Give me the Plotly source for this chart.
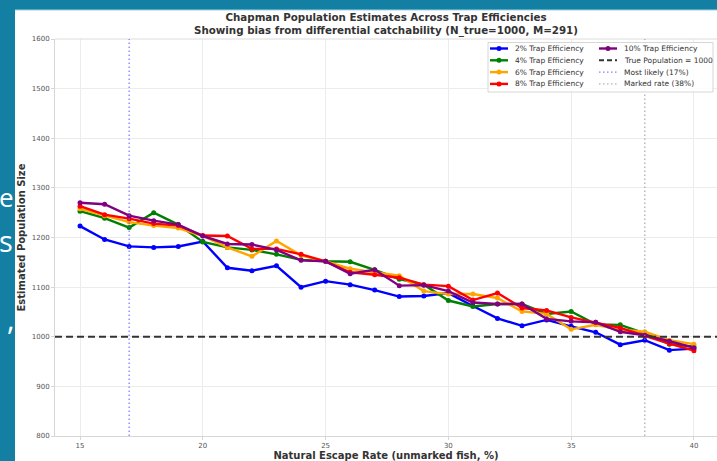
import plotly.graph_objects as go

# ---- data -------------------------------------------------------------
escape_rate = list(range(15, 41))  # natural escape rate of unmarked fish, %

est_2pct = [1223, 1196, 1182, 1180, 1182, 1192, 1139, 1133, 1143, 1100, 1112, 1105, 1094,
            1081, 1082, 1088, 1062, 1037, 1022, 1034, 1021, 1009, 984, 993, 973, 976]
est_4pct = [1253, 1239, 1220, 1250, 1226, 1191, 1180, 1175, 1166, 1155, 1152, 1151, 1135,
            1116, 1105, 1073, 1061, 1066, 1066, 1046, 1051, 1025, 1024, 1007, 985, 980]
est_6pct = [1258, 1244, 1231, 1224, 1219, 1203, 1180, 1162, 1193, 1164, 1152, 1137, 1130,
            1123, 1092, 1086, 1086, 1078, 1051, 1046, 1015, 1024, 1014, 1010, 993, 985]
est_8pct = [1263, 1246, 1238, 1228, 1224, 1204, 1203, 1177, 1177, 1166, 1152, 1130, 1125,
            1119, 1105, 1102, 1074, 1088, 1058, 1053, 1039, 1029, 1018, 1002, 986, 972]
est_10pct = [1270, 1267, 1244, 1234, 1226, 1203, 1187, 1186, 1175, 1154, 1152, 1127, 1135,
             1103, 1104, 1092, 1069, 1066, 1066, 1036, 1031, 1029, 1010, 1003, 991, 978]

series_labels = ["2% Trap Efficiency", "4% Trap Efficiency", "6% Trap Efficiency",
                 "8% Trap Efficiency", "10% Trap Efficiency"]
series_values = [est_2pct, est_4pct, est_6pct, est_8pct, est_10pct]
series_colors = ["#0000ff", "#008000", "#ffa500", "#ff0000", "#800080"]

true_population = 1000
most_likely_rate = 17
marked_rate = 38

y_ticks = list(range(800, 1601, 100))
x_ticks = list(range(15, 41, 5))

# ---- page geometry (pixels) -------------------------------------------
W, H = 717, 461
ML, MR, MT, MB = 55, 0, 39, 25
PW, PH = W - ML - MR, H - MT - MB


def fx(px):
    return (px - ML) / PW


def fy(py):
    return (H - MB - py) / PH


FONT = "DejaVu Sans"
TEAL = "#137fa3"
REF_BLUE = "rgba(90,90,240,0.75)"
REF_GRAY = "rgba(150,150,150,0.75)"

fig = go.Figure()

for label, vals, col in zip(series_labels, series_values, series_colors):
    fig.add_trace(go.Scatter(
        x=escape_rate, y=vals, name=label, mode="lines+markers",
        line=dict(color=col, width=2.4),
        marker=dict(color=col, size=5),
        showlegend=False,
    ))

shapes = []
# slide background card behind the chart
shapes.append(dict(type="rect", xref="paper", yref="paper", layer="below",
                   x0=fx(15), x1=fx(W + 5), y0=fy(H + 5), y1=fy(10),
                   fillcolor="white", line=dict(width=0)))
shapes.append(dict(type="line", xref="paper", yref="paper", layer="below",
                   x0=fx(15), x1=fx(W + 5), y0=fy(10), y1=fy(10),
                   line=dict(color="#9fd3e3", width=1)))
# top spine
shapes.append(dict(type="line", xref="paper", yref="paper",
                   x0=0, x1=1, y0=1, y1=1, line=dict(color="#dcdcdc", width=1)))
# reference lines
shapes.append(dict(type="line", xref="paper", yref="y", x0=0, x1=1,
                   y0=true_population, y1=true_population,
                   line=dict(color="#333333", width=2, dash="7px,4px")))
shapes.append(dict(type="line", xref="x", yref="paper", x0=most_likely_rate,
                   x1=most_likely_rate, y0=0, y1=1,
                   line=dict(color=REF_BLUE, width=1.3, dash="1.5px,2.5px")))
shapes.append(dict(type="line", xref="x", yref="paper", x0=marked_rate,
                   x1=marked_rate, y0=0, y1=1,
                   line=dict(color=REF_GRAY, width=1.3, dash="1.5px,2.5px")))

# ---- legend box --------------------------------------------------------
shapes.append(dict(type="rect", xref="paper", yref="paper",
                   x0=fx(488), x1=fx(713), y0=fy(92), y1=fy(42.5),
                   fillcolor="rgba(255,255,255,0.85)",
                   line=dict(color="#d6d6d6", width=1)))

rows = [48.5, 60.3, 72.1, 83.9]
annotations = []


def legend_text(px, py, text):
    annotations.append(dict(xref="paper", yref="paper", x=fx(px), y=fy(py),
                            xanchor="left", yanchor="middle", showarrow=False,
                            text=text, font=dict(family=FONT, size=7.5, color="#333333")))


def legend_line(px0, px1, py, color, width, dash="solid"):
    shapes.append(dict(type="line", xref="paper", yref="paper",
                       x0=fx(px0), x1=fx(px1), y0=fy(py), y1=fy(py),
                       line=dict(color=color, width=width, dash=dash)))


def legend_dot(pxc, py, color, r=2.5):
    shapes.append(dict(type="circle", xref="paper", yref="paper",
                       x0=fx(pxc - r), x1=fx(pxc + r), y0=fy(py + r), y1=fy(py - r),
                       fillcolor=color, line=dict(color=color, width=0)))


for i in range(4):
    legend_line(490, 508, rows[i], series_colors[i], 2.4)
    legend_dot(499, rows[i], series_colors[i])
    legend_text(513, rows[i], series_labels[i])

legend_line(599, 617, rows[0], series_colors[4], 2.4)
legend_dot(608, rows[0], series_colors[4])
legend_text(622, rows[0], series_labels[4])
legend_line(599, 617, rows[1], "#333333", 2, "5px,3px")
legend_text(622, rows[1], f"True Population = {true_population}")
legend_line(599, 617, rows[2], REF_BLUE, 1.3, "1.5px,2.5px")
legend_text(622, rows[2], f"Most likely ({most_likely_rate}%)")
legend_line(599, 617, rows[3], REF_GRAY, 1.3, "1.5px,2.5px")
legend_text(622, rows[3], f"Marked rate ({marked_rate}%)")

# ---- title -------------------------------------------------------------
annotations.append(dict(xref="paper", yref="paper", x=0.5, y=fy(23.5),
                        xanchor="center", yanchor="middle", showarrow=False,
                        text="<b>Chapman Population Estimates Across Trap Efficiencies<br>"
                             "Showing bias from differential catchability (N_true=1000, M=291)</b>",
                        font=dict(family=FONT, size=10.3, color="#333333")))

# slide text peeking out behind the chart
for ch, px, py, size in [("e", 16, 197, 26), ("s", 15, 241, 29), (",", 17, 318, 29)]:
    annotations.append(dict(xref="paper", yref="paper", x=fx(px), y=fy(py),
                            xanchor="right", yanchor="middle", showarrow=False,
                            text=ch, font=dict(family="Open Sans", size=size, color="white")))

fig.update_layout(
    width=W, height=H,
    margin=dict(l=ML, r=MR, t=MT, b=MB, pad=0),
    paper_bgcolor=TEAL, plot_bgcolor="white",
    showlegend=False,
    shapes=shapes, annotations=annotations,
    font=dict(family=FONT, color="#555555"),
)

fig.update_xaxes(
    range=[13.98, 40.94], tickvals=x_ticks, showgrid=True, gridcolor="#ececec", gridwidth=1,
    zeroline=False, showline=True, linecolor="#d6d6d6", linewidth=1,
    ticks="outside", ticklen=3, tickcolor="#d6d6d6",
    tickfont=dict(family=FONT, size=7, color="#555555"),
    title=dict(text="<b>Natural Escape Rate (unmarked fish, %)</b>", standoff=3,
               font=dict(family=FONT, size=10, color="#333333")),
)
fig.update_yaxes(
    range=[800, 1600], tickvals=y_ticks, showgrid=True, gridcolor="#ececec", gridwidth=1,
    zeroline=False, showline=True, linecolor="#d6d6d6", linewidth=1,
    ticks="outside", ticklen=3, tickcolor="#d6d6d6",
    tickfont=dict(family=FONT, size=7, color="#555555"),
    title=dict(text="<b>Estimated Population Size</b>", standoff=4,
               font=dict(family=FONT, size=10, color="#333333")),
)

fig.write_html("out.html")
